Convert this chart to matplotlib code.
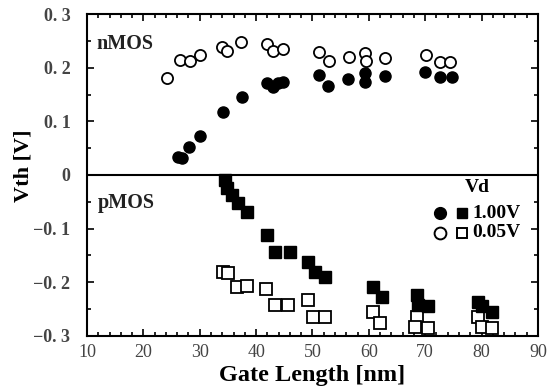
import numpy as np
import matplotlib
matplotlib.use("Agg")
import matplotlib.pyplot as plt
from matplotlib.ticker import MultipleLocator, FixedLocator

plt.rcParams["font.family"] = ["Liberation Serif", "DejaVu Serif"]

# nMOS, Vd = 1.00 V (filled circles)
n_hi_L = [26.1, 26.8, 28.1, 30.0, 34.1, 37.5, 41.9, 43.0, 43.9, 44.8,
          51.1, 52.7, 56.3, 59.3, 59.3, 62.9, 70.0, 72.6, 74.7]
n_hi_V = [0.034, 0.032, 0.052, 0.073, 0.117, 0.145, 0.171, 0.164, 0.171, 0.173,
          0.186, 0.166, 0.179, 0.190, 0.173, 0.184, 0.192, 0.183, 0.183]

# nMOS, Vd = 0.05 V (open circles)
n_lo_L = [24.2, 26.5, 28.3, 30.0, 34.0, 34.8, 37.3, 41.9, 43.0, 44.8,
          51.1, 52.9, 56.5, 59.3, 59.5, 62.9, 70.1, 72.6, 74.4]
n_lo_V = [0.181, 0.214, 0.212, 0.224, 0.239, 0.231, 0.248, 0.244, 0.231, 0.235,
          0.229, 0.212, 0.220, 0.227, 0.212, 0.218, 0.224, 0.210, 0.210]

# pMOS, Vd = 1.00 V (filled squares)
p_hi_L = [34.5, 34.8, 35.7, 36.8, 38.4, 41.9, 43.3, 46.0, 49.2, 50.4,
          52.2, 60.7, 62.3, 68.5, 68.7, 70.5, 79.4, 80.0, 81.8]
p_hi_V = [-0.009, -0.024, -0.037, -0.052, -0.069, -0.112, -0.143, -0.143, -0.162, -0.180,
          -0.190, -0.208, -0.227, -0.223, -0.242, -0.245, -0.236, -0.245, -0.255]

# pMOS, Vd = 0.05 V (open squares)
p_lo_L = [34.1, 35.0, 36.6, 38.4, 41.7, 43.3, 45.6, 49.2, 50.1, 52.2,
          60.7, 62.0, 68.5, 68.2, 70.5, 79.4, 80.0, 81.8]
p_lo_V = [-0.181, -0.183, -0.208, -0.207, -0.212, -0.242, -0.242, -0.233, -0.264, -0.264,
          -0.255, -0.276, -0.264, -0.283, -0.285, -0.264, -0.283, -0.285]

x_ticks = [10, 20, 30, 40, 50, 60, 70, 80, 90]
y_ticks = [-0.3, -0.2, -0.1, 0, 0.1, 0.2, 0.3]
y_labels = ["\u22120. 3", "\u22120. 2", "\u22120. 1", "0", "0. 1", "0. 2", "0. 3"]

fig = plt.figure(figsize=(5.47, 3.91), dpi=100)
ax = fig.add_axes([0.159, 0.141, 0.8245, 0.823])

ax.axhline(0, color="black", lw=1.5, zorder=1)

ax.plot(n_lo_L, n_lo_V, "o", ms=8, mfc="white", mec="black", mew=1.3, zorder=3)
ax.plot(n_hi_L, n_hi_V, "o", ms=8, mfc="black", mec="black", zorder=3)
ax.plot(p_lo_L, p_lo_V, "s", ms=8, mfc="white", mec="black", mew=1.3, zorder=3)
ax.plot(p_hi_L, p_hi_V, "s", ms=8, mfc="black", mec="black", zorder=3)

ax.set_xlim(10, 90)
ax.set_ylim(-0.3, 0.3)
ax.xaxis.set_major_locator(FixedLocator(x_ticks))
ax.xaxis.set_minor_locator(MultipleLocator(2))
ax.yaxis.set_major_locator(FixedLocator(y_ticks))
ax.yaxis.set_minor_locator(MultipleLocator(0.05))
ax.set_yticklabels(y_labels, fontweight="bold")
ax.tick_params(which="both", direction="in", top=True, right=True, width=1.2,
               labelsize=13, labelcolor="#444444")
ax.tick_params(axis="y", pad=12)
ax.tick_params(axis="x", pad=6)
ax.tick_params(which="major", length=5)
ax.tick_params(which="minor", length=3)
for s in ax.spines.values():
    s.set_linewidth(1.5)

ax.set_xlabel("Gate Length [nm]", fontsize=17.5, fontweight="bold", labelpad=3)
ax.set_ylabel("Vth [V]", fontsize=16, fontweight="bold")
ax.yaxis.set_label_coords(-0.118, 0.53)

ax.text(11.6, 0.244, "nMOS", fontsize=14.5, fontweight="bold", va="center", color="#222222")
ax.text(12.0, -0.053, "pMOS", fontsize=14.5, fontweight="bold", va="center", color="#222222")

# legend built by hand to mimic the original layout
ax.text(77.0, -0.024, "Vd", fontsize=14, fontweight="bold", va="center")
ax.plot([72.6], [-0.071], "o", ms=8.5, mfc="black", mec="black", clip_on=False)
ax.plot([76.5], [-0.071], "s", ms=7.5, mfc="black", mec="black", clip_on=False)
ax.plot([72.6], [-0.108], "o", ms=8.5, mfc="white", mec="black", mew=1.4, clip_on=False)
ax.plot([76.5], [-0.108], "s", ms=7.5, mfc="white", mec="black", mew=1.4, clip_on=False)
ax.text(78.3, -0.071, "1.00V", fontsize=14, fontweight="bold", va="center")
ax.text(78.3, -0.108, "0.05V", fontsize=14, fontweight="bold", va="center")

fig.savefig("out.png", dpi=100)
